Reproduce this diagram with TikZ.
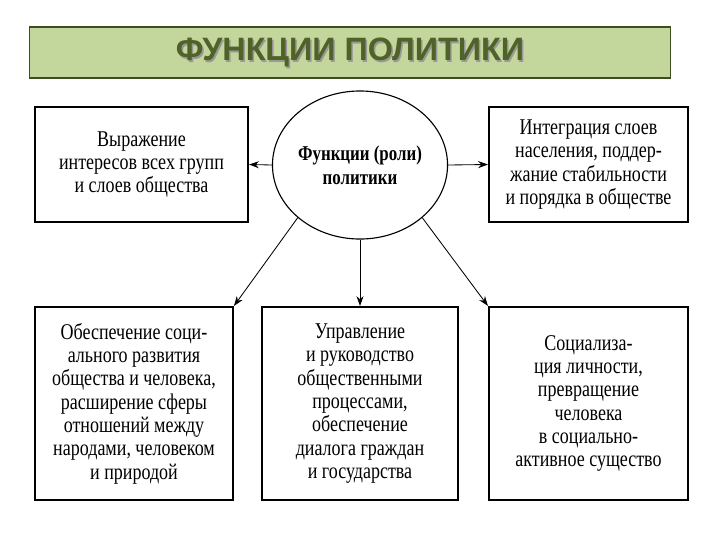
\documentclass[tikz,border=0pt]{standalone}
\usepackage{fontspec}
\setmainfont{Liberation Serif}
\newfontfamily\boxfont[FakeStretch=0.8]{Liberation Serif}
\newfontfamily\titlefont{Liberation Sans}
\usetikzlibrary{shapes.geometric,arrows.meta}

\definecolor{titlefill}{HTML}{C3D69B}
\definecolor{titletext}{HTML}{4F6228}

\tikzset{
    funcbox/.style={draw, line width=1.3pt, align=center, inner sep=0pt,
        font=\boxfont\fontsize{16}{16.6}\selectfont},
    link/.style={-{Stealth[length=7pt,width=5pt]}, line width=0.6pt}
}

\begin{document}
\begin{tikzpicture}[x=0.025cm,y=-0.025cm]
    \useasboundingbox (0,0) rectangle (720,540);

    % title bar
    \node [draw=titletext!80!black, fill=titlefill, line width=0.8pt,
        minimum width=16cm, minimum height=1.275cm] (title) at (350,52.5) {};
    \node [text=black!40, font=\titlefont\bfseries\fontsize{23}{23}\selectfont]
        (titleshadow) at (351.5,54) {ФУНКЦИИ ПОЛИТИКИ};
    \node [text=titletext, font=\titlefont\bfseries\fontsize{23}{23}\selectfont]
        (titletxt) at (350,52.5) {ФУНКЦИИ ПОЛИТИКИ};

    % centre
    \node [draw, ellipse, line width=0.8pt, inner sep=0pt,
        minimum width=4.15cm, minimum height=3.7cm, align=center,
        font=\boxfont\bfseries\fontsize{15}{17}\selectfont] (fn) at (360,165)
        {Функции (роли)\\политики};

    % top row
    \node [funcbox, minimum width=5.33cm, minimum height=2.88cm] (expr) at (141.5,164.5)
        {Выражение\\интересов всех групп\\и слоев общества};
    \node [funcbox, minimum width=4.98cm, minimum height=2.88cm] (integr) at (588.5,164.5)
        {Интеграция слоев\\населения, поддер-\\жание стабильности\\и порядка в обществе};

    % bottom row
    \node [funcbox, minimum width=4.95cm, minimum height=4.83cm] (devel) at (134,403.5)
        {Обеспечение соци-\\ального развития\\общества и человека,\\расширение сферы\\отношений между\\народами, человеком\\и природой};
    \node [funcbox, minimum width=4.9cm, minimum height=4.83cm] (manage) at (360,403.5)
        {Управление\\и руководство\\общественными\\процессами,\\обеспечение\\диалога граждан\\и государства};
    \node [funcbox, minimum width=4.98cm, minimum height=4.83cm] (social) at (588.5,403.5)
        {Социализа-\\ция личности,\\превращение\\человека\\в социально-\\активное существо};

    \draw [link] (fn.west) -- (expr.east);
    \draw [link] (fn.east) -- (integr.west);
    \draw [link] (fn.south west) -- (devel.north east);
    \draw [link] (fn.south) -- (manage.north);
    \draw [link] (fn.south east) -- (social.north west);

\end{tikzpicture}
\end{document}
